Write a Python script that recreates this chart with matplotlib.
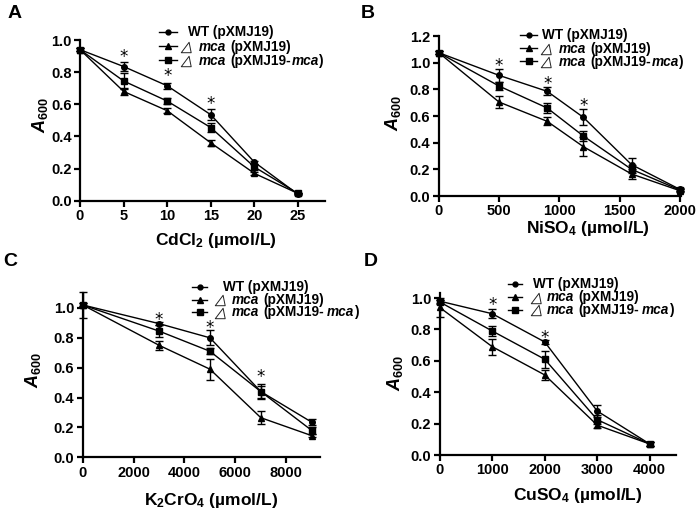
import matplotlib
matplotlib.use("Agg")
import matplotlib.pyplot as plt
from matplotlib.lines import Line2D
from matplotlib.path import Path

plt.rcParams['font.family'] = ['Liberation Sans', 'DejaVu Sans']
plt.rcParams['font.weight'] = 'bold'
plt.rcParams['mathtext.fontset'] = 'custom'
plt.rcParams['mathtext.rm'] = 'Liberation Sans:bold'
plt.rcParams['mathtext.bf'] = 'Liberation Sans:bold'
plt.rcParams['mathtext.it'] = 'Liberation Sans:bold:italic'

# ---------------- data ----------------
strain_wt = "WT"
strain_mut = "mca"
plasmid_empty = "(pXMJ19)"
plasmid_comp = "(pXMJ19-"

# Panel A: CdCl2
a_x = [0, 5, 10, 15, 20, 25]
a_wt = [0.94, 0.835, 0.715, 0.535, 0.24, 0.04]
a_wt_err = [0.01, 0.025, 0.02, 0.035, 0.01, 0.005]
a_del = [0.94, 0.68, 0.56, 0.36, 0.17, 0.045]
a_del_err = [0.01, 0.02, 0.015, 0.02, 0.01, 0.005]
a_comp = [0.94, 0.745, 0.62, 0.455, 0.21, 0.045]
a_comp_err = [0.01, 0.05, 0.02, 0.03, 0.02, 0.005]
a_star_x = [5, 10, 15]
a_star_y = [0.92, 0.80, 0.627]

# Panel B: NiSO4
b_x = [0, 500, 900, 1200, 1600, 2000]
b_wt = [1.075, 0.905, 0.785, 0.59, 0.235, 0.05]
b_wt_err = [0.01, 0.05, 0.03, 0.06, 0.05, 0.01]
b_del = [1.075, 0.705, 0.56, 0.37, 0.165, 0.04]
b_del_err = [0.01, 0.045, 0.03, 0.07, 0.035, 0.01]
b_comp = [1.075, 0.825, 0.66, 0.45, 0.2, 0.045]
b_comp_err = [0.01, 0.03, 0.04, 0.035, 0.03, 0.01]
b_star_x = [500, 900, 1200]
b_star_y = [1.007, 0.875, 0.707]

# Panel C: K2CrO4
c_x = [0, 3000, 5000, 7000, 9000]
c_wt = [1.02, 0.895, 0.80, 0.44, 0.235]
c_wt_err = [0.01, 0.01, 0.05, 0.04, 0.02]
c_del = [1.02, 0.75, 0.59, 0.265, 0.145]
c_del_err = [0.09, 0.03, 0.07, 0.045, 0.01]
c_comp = [1.02, 0.845, 0.71, 0.44, 0.18]
c_comp_err = [0.01, 0.04, 0.02, 0.05, 0.025]
c_star_x = [3000, 5000, 7000]
c_star_y = [0.948, 0.893, 0.564]

# Panel D: CuSO4
d_x = [0, 1000, 2000, 3000, 4000]
d_wt = [0.98, 0.90, 0.72, 0.28, 0.07]
d_wt_err = [0.01, 0.03, 0.015, 0.04, 0.01]
d_del = [0.94, 0.69, 0.51, 0.19, 0.07]
d_del_err = [0.06, 0.05, 0.03, 0.02, 0.01]
d_comp = [0.975, 0.79, 0.61, 0.225, 0.07]
d_comp_err = [0.01, 0.03, 0.055, 0.03, 0.01]
d_star_x = [1000, 2000]
d_star_y = [0.985, 0.774]

W, H = 697, 511
fig = plt.figure(figsize=(W / 100, H / 100), dpi=100)
renderer = fig.canvas.get_renderer()


def fx(px):
    return px / W


def fy(py):
    return 1 - py / H


markers = ['o', '^', 's']
msizes = [4, 4.5, 4.5]
leg_msizes = [3.5, 4, 4]

# slanted thin triangle (the "delta" sign)
tri_path = Path([(-0.5, -0.5), (0.45, -0.5), (0.25, 0.5), (-0.5, -0.5)],
                [Path.MOVETO, Path.LINETO, Path.LINETO, Path.CLOSEPOLY])

LEG_FS = 9.8


def text_run(x, y_base, parts):
    for s, style, gap in parts:
        t = fig.text(fx(x), fy(y_base), s, fontsize=LEG_FS, fontweight='bold',
                     fontstyle=style, ha='left', va='baseline')
        x += t.get_window_extent(renderer).width + gap


def legend(line_x0, line_x1, wt_x, tri_cx, mca_x, rows, dash_gap):
    for i, (m, ms) in enumerate(zip(markers, leg_msizes)):
        y = rows[i]
        fig.add_artist(Line2D([fx(line_x0), fx(line_x1)], [fy(y), fy(y)],
                              color='black', lw=1.0, transform=fig.transFigure))
        fig.add_artist(Line2D([fx((line_x0 + line_x1) / 2)], [fy(y)], color='black',
                              marker=m, ms=ms, lw=0, transform=fig.transFigure))
    base = [r + 4.3 for r in rows]
    text_run(wt_x, base[0], [(strain_wt + " " + plasmid_empty, 'normal', 0)])
    for i in (1, 2):
        fig.add_artist(Line2D([fx(tri_cx)], [fy(rows[i] + 0.5)], color='#222222',
                              marker=tri_path, ms=7.5, mfc='none', mew=0.7, lw=0,
                              transform=fig.transFigure))
    text_run(mca_x, base[1], [(strain_mut, 'italic', 4), (plasmid_empty, 'normal', 0)])
    text_run(mca_x, base[2], [(strain_mut, 'italic', 4), (plasmid_comp, 'normal', dash_gap),
                              (strain_mut, 'italic', 0.5), (")", 'normal', 0)])


def panel(rect_px, x, ys, errs, stars_x, stars_y, xlim, ylim, xticks, yticks,
          letter, letter_pos, xlabel, xlabel_pos, ylabel_pos):
    l, t, r, b = rect_px
    ax = fig.add_axes([fx(l), fy(b), fx(r - l), (b - t) / H])
    for y, e, m, ms in zip(ys, errs, markers, msizes):
        ax.errorbar(x, y, yerr=e, color='black', lw=1.0, marker=m, ms=ms,
                    capsize=3, capthick=1.0, elinewidth=1.0, clip_on=False, zorder=3)
    for sx, sy in zip(stars_x, stars_y):
        ax.annotate('*', (sx, sy), xytext=(0, -3), textcoords='offset points',
                    ha='center', va='center', fontsize=12,
                    fontweight='normal', family=['DejaVu Sans'])
    ax.set_xlim(*xlim)
    ax.set_ylim(*ylim)
    ax.set_xticks(xticks)
    ax.set_yticks(yticks)
    ax.set_yticklabels([f"{v:.1f}" for v in yticks])
    for s in ['top', 'right']:
        ax.spines[s].set_visible(False)
    for s in ['left', 'bottom']:
        ax.spines[s].set_linewidth(1.6)
    ax.tick_params(direction='out', length=4, width=1.6, labelsize=10.5, pad=2)
    for lab in ax.get_xticklabels() + ax.get_yticklabels():
        lab.set_fontweight('bold')
    fig.text(fx(letter_pos[0]), fy(letter_pos[1]), letter, fontsize=14,
             fontweight='bold', ha='center', va='center')
    fig.text(fx(xlabel_pos[0]), fy(xlabel_pos[1]), xlabel, fontsize=12.5,
             fontweight='bold', ha='center', va='center')
    fig.text(fx(ylabel_pos[0]), fy(ylabel_pos[1]), "$A_{600}$", fontsize=13,
             rotation=90, ha='center', va='center')
    return ax


panel((80, 40, 325, 200.7), a_x, [a_wt, a_del, a_comp],
      [a_wt_err, a_del_err, a_comp_err], a_star_x, a_star_y,
      (0, 28.1), (0, 1.0), a_x, [0, 0.2, 0.4, 0.6, 0.8, 1.0],
      'A', (15, 13), "CdCl$_{2}$ (\u00b5mol/L)", (216, 241), (40, 115))
legend(159, 177, 188, 186, 199, [32, 46.5, 60.5], 0.5)

panel((438.7, 36, 681, 196), b_x, [b_wt, b_del, b_comp],
      [b_wt_err, b_del_err, b_comp_err], b_star_x, b_star_y,
      (0, 2010), (0, 1.2), [0, 500, 1000, 1500, 2000],
      [0, 0.2, 0.4, 0.6, 0.8, 1.0, 1.2],
      'B', (368, 13), "NiSO$_{4}$ (\u00b5mol/L)", (588, 228), (393, 113))
legend(520, 537, 542, 546, 559, [35, 48.5, 61.5], 0.5)

panel((82.7, 293, 320, 457.3), c_x, [c_wt, c_del, c_comp],
      [c_wt_err, c_del_err, c_comp_err], c_star_x, c_star_y,
      (0, 9325), (0, 1.1), [0, 2000, 4000, 6000, 8000],
      [0, 0.2, 0.4, 0.6, 0.8, 1.0],
      'C', (10, 262), "K$_{2}$CrO$_{4}$ (\u00b5mol/L)", (211, 500), (33, 370))
legend(192, 207, 223, 220, 232, [287, 299.5, 312], 3)

panel((439.7, 293.3, 676, 455), d_x, [d_wt, d_del, d_comp],
      [d_wt_err, d_del_err, d_comp_err], d_star_x, d_star_y,
      (0, 4500), (0, 1.03), [0, 1000, 2000, 3000, 4000],
      [0, 0.2, 0.4, 0.6, 0.8, 1.0],
      'D', (371, 261), "CuSO$_{4}$ (\u00b5mol/L)", (578, 495), (394.7, 373))
legend(508, 522, 533, 536, 547, [284, 297, 309.5], 3)

fig.savefig("out.png", dpi=100)
